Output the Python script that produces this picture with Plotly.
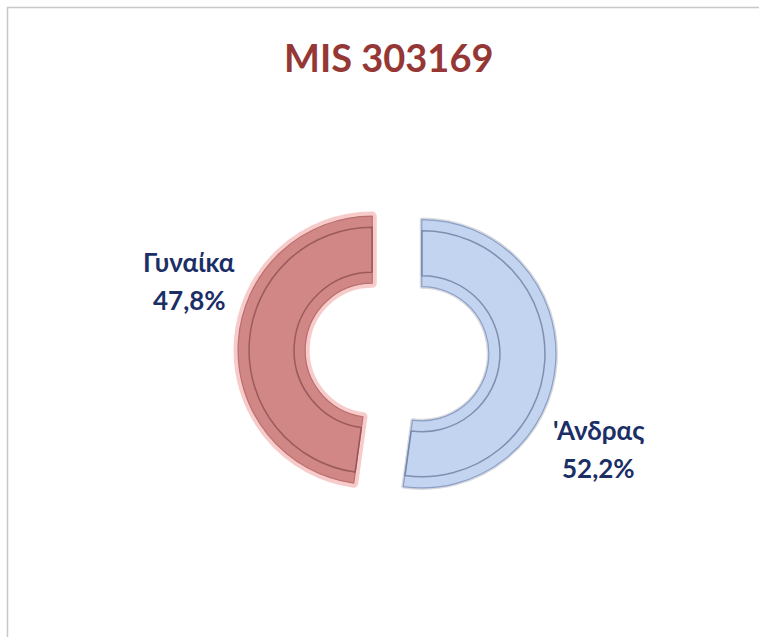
import plotly.graph_objects as go

title_text = "MIS 303169"
categories = ["'Ανδρας", "Γυναίκα"]
values = [52.2, 47.8]
pct_labels = ["52,2%", "47,8%"]

colors = ["#C3D4F1", "#D18785"]
edge_colors = ["#8C9FC4", "#B86F6E"]

W, H = 759, 637
cx, cy = 397 / W, 1 - 352 / H
half_w, half_h = 159 / W, 159 / H

fig = go.Figure()

# glow / halo behind slices
fig.add_trace(go.Pie(
    labels=categories, values=values, sort=False, direction="clockwise", rotation=0,
    hole=0.5, pull=[0.185, 0.185],
    marker=dict(colors=["rgba(0,0,0,0)", "rgba(0,0,0,0)"],
                line=dict(color=["rgba(120,130,150,0.3)", "rgba(240,140,140,0.45)"], width=[4, 9])),
    textinfo="none", hoverinfo="skip", showlegend=False,
    domain=dict(x=[cx - half_w, cx + half_w], y=[cy - half_h, cy + half_h]),
))

# main ring
fig.add_trace(go.Pie(
    labels=categories, values=values, sort=False, direction="clockwise", rotation=0,
    hole=0.5, pull=[0.185, 0.185],
    marker=dict(colors=colors, line=dict(color=edge_colors, width=1.2)),
    textinfo="none", showlegend=False,
    domain=dict(x=[cx - half_w, cx + half_w], y=[cy - half_h, cy + half_h]),
))

# inner bevel outline (decorative)
r_out = 134
inset = 11
r_in_new = r_out - inset
hole_in = (0.5 * r_out + inset) / r_in_new
pull_in = 25 / r_in_new
d_in = r_in_new * (1 + pull_in)
fig.add_trace(go.Pie(
    labels=categories, values=values, sort=False, direction="clockwise", rotation=0,
    hole=hole_in, pull=[pull_in, pull_in],
    marker=dict(colors=["rgba(0,0,0,0)", "rgba(0,0,0,0)"],
                line=dict(color=["rgba(110,125,160,0.8)", "rgba(140,80,80,0.8)"], width=1.5)),
    textinfo="none", hoverinfo="skip", showlegend=False,
    domain=dict(x=[cx - d_in / W, cx + d_in / W], y=[cy - d_in / H, cy + d_in / H]),
))

label_font = dict(family="Lato, Open Sans, Noto Sans, sans-serif", size=26, color="#1B2F66")
label_pos = [(598, 430, 468), (189, 262, 300)]
for cat, pct, (x, y1, y2) in zip(categories, pct_labels, label_pos):
    fig.add_annotation(x=x / W, y=1 - y1 / H, xref="paper", yref="paper", text="<b>%s</b>" % cat,
                       showarrow=False, font=label_font, xanchor="center", yanchor="middle")
    fig.add_annotation(x=x / W, y=1 - y2 / H, xref="paper", yref="paper", text="<b>%s</b>" % pct,
                       showarrow=False, font=label_font, xanchor="center", yanchor="middle")

fig.add_annotation(x=389 / W, y=1 - 57 / H, xref="paper", yref="paper", text="<b>%s</b>" % title_text,
                   showarrow=False, font=dict(family="Lato, Open Sans, sans-serif", size=38, color="#953735"),
                   xanchor="center", yanchor="middle")

fig.add_shape(type="rect", xref="paper", yref="paper", x0=7.5 / W, x1=1.05, y0=-0.05, y1=1 - 7.5 / H,
              line=dict(color="#C8C8C8", width=1.5), fillcolor="rgba(0,0,0,0)")

fig.update_layout(width=W, height=H, margin=dict(l=0, r=0, t=0, b=0),
                  paper_bgcolor="white", plot_bgcolor="white", showlegend=False)

fig.write_html("out.html", config={"displayModeBar": False},
               post_script="document.body.style.margin='0';document.body.style.overflow='hidden';")
